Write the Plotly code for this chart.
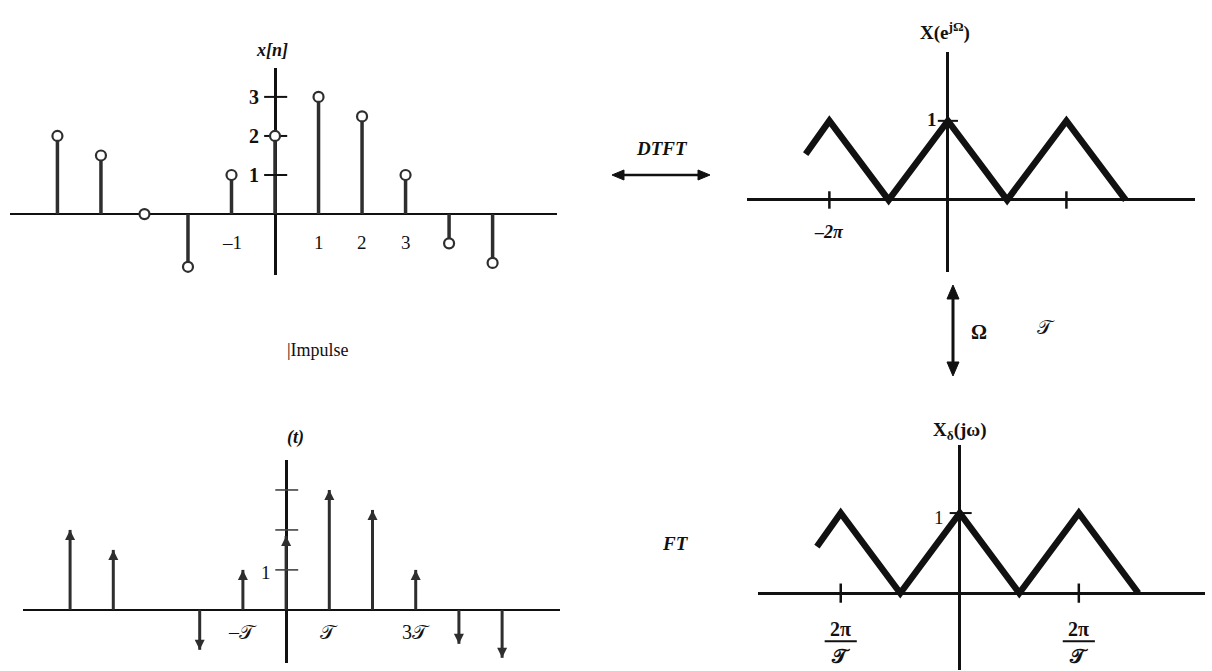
import plotly.graph_objects as go

# ---------------- data ----------------
n_idx = [-5, -4, -3, -2, -1, 0, 1, 2, 3, 4, 5]
x_n = [2, 1.5, 0, -1.35, 1, 2, 3, 2.5, 1, -0.75, -1.25]
impulse_w = [2, 1.5, 0, -1, 1, 1.85, 3, 2.5, 1, -0.85, -1.2]

dtft_omega_pi = [-2.4, -2, -1, 0, 1, 2, 3]      # Omega / pi
dtft_mag = [0.58, 1, 0, 1, 0, 1, 0]
ft_omega_pi = [-2.4, -2, -1, 0, 1, 2, 3]        # omega / (pi/T)
ft_mag = [0.58, 1, 0, 1, 0, 1, 0]

xn_yticks = [1, 2, 3]
xn_xtick_vals = [-1, 1, 2, 3]
xn_xtick_text = ["–1", "1", "2", "3"]
imp_yticks = [1, 2, 3]
imp_xtick_vals = [-1, 1, 3]
imp_xtick_text = ["–𝒯", "𝒯", "3𝒯"]
dtft_xticks = [-2, 2]
ft_xticks = [-2, 2]
ft_xtick_num = "2π"
ft_xtick_den = "𝒯"

SERIF = "Liberation Serif"
INK = "#111111"
STEM = "#2e2e2e"

fig = go.Figure()

def seg_xy(xs, ys0, ys1):
    X, Y = [], []
    for a, b0, b1 in zip(xs, ys0, ys1):
        X += [a, a, None]
        Y += [b0, b1, None]
    return X, Y

def hseg(vals, half, xc=0.0):
    X, Y = [], []
    for v in vals:
        X += [xc - half[0], xc + half[1], None]
        Y += [v, v, None]
    return X, Y

def vseg(vals, half):
    X, Y = [], []
    for v in vals:
        X += [v, v, None]
        Y += [-half, half, None]
    return X, Y

# ---------- top-left: x[n] stems ----------
sx, sy = seg_xy(n_idx, [0] * len(n_idx), x_n)
fig.add_trace(go.Scatter(x=sx, y=sy, mode="lines", line=dict(color=STEM, width=3.5),
                         xaxis="x", yaxis="y", hoverinfo="skip"))
tx, ty = hseg(xn_yticks, (0.25, 0.28))
fig.add_trace(go.Scatter(x=tx, y=ty, mode="lines", line=dict(color=INK, width=2),
                         xaxis="x", yaxis="y", hoverinfo="skip"))
fig.add_trace(go.Scatter(x=n_idx, y=x_n, mode="markers",
                         marker=dict(symbol="circle", size=10, color="white",
                                     line=dict(color=STEM, width=2.2)),
                         xaxis="x", yaxis="y", hoverinfo="skip"))

# ---------- top-right: DTFT ----------
fig.add_trace(go.Scatter(x=dtft_omega_pi, y=dtft_mag, mode="lines",
                         line=dict(color=INK, width=6.5),
                         xaxis="x2", yaxis="y2", hoverinfo="skip"))
tx, ty = hseg([1], (0.17, 0.17))
fig.add_trace(go.Scatter(x=tx, y=ty, mode="lines", line=dict(color=INK, width=2),
                         xaxis="x2", yaxis="y2", hoverinfo="skip"))
tx, ty = vseg(dtft_xticks, 0.11)
fig.add_trace(go.Scatter(x=tx, y=ty, mode="lines", line=dict(color=INK, width=2.5),
                         xaxis="x2", yaxis="y2", hoverinfo="skip"))

# ---------- bottom-left: impulse train ----------
imp_n = [a for a, w in zip(n_idx, impulse_w) if w != 0]
imp_v = [w for w in impulse_w if w != 0]
sx, sy = seg_xy(imp_n, [0] * len(imp_n), imp_v)
fig.add_trace(go.Scatter(x=sx, y=sy, mode="lines", line=dict(color=STEM, width=3),
                         xaxis="x3", yaxis="y3", hoverinfo="skip"))
fig.add_trace(go.Scatter(x=imp_n, y=imp_v, mode="markers",
                         marker=dict(symbol=["arrow-up" if v > 0 else "arrow-down" for v in imp_v],
                                     size=10, color=STEM, line=dict(width=0)),
                         xaxis="x3", yaxis="y3", hoverinfo="skip"))
tx, ty = hseg(imp_yticks, (0.25, 0.28))
fig.add_trace(go.Scatter(x=tx, y=ty, mode="lines", line=dict(color="#444", width=1.6),
                         xaxis="x3", yaxis="y3", hoverinfo="skip"))

# ---------- bottom-right: FT ----------
fig.add_trace(go.Scatter(x=ft_omega_pi, y=ft_mag, mode="lines",
                         line=dict(color=INK, width=6.5),
                         xaxis="x4", yaxis="y4", hoverinfo="skip"))
tx, ty = hseg([1], (0.17, 0.2))
fig.add_trace(go.Scatter(x=tx, y=ty, mode="lines", line=dict(color=INK, width=2),
                         xaxis="x4", yaxis="y4", hoverinfo="skip"))
tx, ty = vseg(ft_xticks, 0.12)
fig.add_trace(go.Scatter(x=tx, y=ty, mode="lines", line=dict(color=INK, width=2.5),
                         xaxis="x4", yaxis="y4", hoverinfo="skip"))

W, H = 1212, 671

def ax(px0, px1, rng, zw):
    return dict(domain=[px0 / W, px1 / W], range=rng, showgrid=False, showticklabels=False,
                ticks="", showline=False, zeroline=True, zerolinecolor=INK, zerolinewidth=zw,
                fixedrange=True)

def ay(py_top, py_bot, rng, anchor, zw):
    d = ax(0, 1, rng, zw)
    d["domain"] = [1 - py_bot / H, 1 - py_top / H]
    d["anchor"] = anchor
    return d

x1 = ax(10, 557, [-6.09, 6.48], 3); x1["anchor"] = "y"
y1 = ay(68, 275, [-1.56, 3.74], "x", 2)
x2 = ax(747, 1195, [-3.39, 4.17], 3); x2["anchor"] = "y2"
y2 = ay(52, 272, [-0.91, 1.87], "x2", 2.5)
x3 = ax(23, 560, [-6.09, 6.34], 2.5); x3["anchor"] = "y3"
y3 = ay(460, 663, [-1.33, 3.75], "x3", 2)
x4 = ax(758, 1205, [-3.39, 4.12], 3); x4["anchor"] = "y4"
y4 = ay(445, 670, [-0.96, 1.85], "x4", 2.5)

ann = []

def A(text, x, y, xref, yref, size=17, bold=False, italic=False, **kw):
    t = text
    if italic:
        t = "<i>" + t + "</i>"
    if bold:
        t = "<b>" + t + "</b>"
    d = dict(text=t, x=x, y=y, xref=xref, yref=yref, showarrow=False,
             font=dict(family=SERIF, size=size, color=INK), xanchor="center", yanchor="middle")
    d.update(kw)
    ann.append(d)

def P(px, py):
    return px / W, 1 - py / H

# top-left labels
A("x[n]", *P(272, 50), "paper", "paper", size=18, bold=True, italic=True)
for v in xn_yticks:
    A(str(v), -0.48, v, "x", "y", size=20, bold=True)
for v, t in zip(xn_xtick_vals, xn_xtick_text):
    A(t, v, -0.74, "x", "y", size=19)

# top-right labels
A("X(e<sup>jΩ</sup>)", *P(945, 31), "paper", "paper", size=19, bold=True)
A("1", -0.27, 1.02, "x2", "y2", size=19, bold=True)
A("–2π", -2, -0.41, "x2", "y2", size=18, bold=True, italic=True)

# bottom-left labels
A("(t)", *P(295, 437), "paper", "paper", size=18, bold=True, italic=True)
A("1", -0.46, 0.93, "x3", "y3", size=19)
for v, t in zip(imp_xtick_vals, imp_xtick_text):
    A(t, v, -0.55, "x3", "y3", size=20)

# bottom-right labels
A("X<sub>δ</sub>(jω)", *P(960, 431), "paper", "paper", size=19, bold=True)
A("1", -0.35, 0.95, "x4", "y4", size=19)

shapes = []
for v in ft_xticks:
    A(ft_xtick_num, v, -0.45, "x4", "y4", size=20, bold=True)
    A(ft_xtick_den, v, -0.78, "x4", "y4", size=20, bold=True)
    shapes.append(dict(type="line", xref="x4", yref="y4", x0=v - 0.27, x1=v + 0.27,
                       y0=-0.6, y1=-0.6, line=dict(color=INK, width=2)))

# between-panel texts
A("DTFT", *P(662, 148), "paper", "paper", size=19, bold=True, italic=True)
A("|Impulse", *P(318, 350), "paper", "paper", size=18)
A("Ω", *P(979, 332), "paper", "paper", size=20, bold=True)
A("𝒯", *P(1046, 327), "paper", "paper", size=20)
A("FT", *P(675, 543), "paper", "paper", size=19, bold=True, italic=True)

# double arrows drawn as shapes (paper coordinates)
def double_arrow(p0, p1, width, head_len, head_half):
    (x0, y0), (x1_, y1_) = p0, p1
    dx, dy = x1_ - x0, y1_ - y0
    L = (dx * dx + dy * dy) ** 0.5
    ux, uy = dx / L, dy / L
    nx, ny = -uy, ux
    a = (x0 + ux * head_len * 0.6, y0 + uy * head_len * 0.6)
    b = (x1_ - ux * head_len * 0.6, y1_ - uy * head_len * 0.6)
    shapes.append(dict(type="line", xref="paper", yref="paper",
                       x0=a[0] / W, y0=1 - a[1] / H, x1=b[0] / W, y1=1 - b[1] / H,
                       line=dict(color=INK, width=width)))
    for (tx_, ty_), s in (((x1_, y1_), -1), ((x0, y0), 1)):
        bx, by = tx_ + s * ux * head_len, ty_ + s * uy * head_len
        pts = [(tx_, ty_), (bx + nx * head_half, by + ny * head_half),
               (bx - nx * head_half, by - ny * head_half)]
        path = "M " + " L ".join(f"{px / W:.5f},{1 - py / H:.5f}" for px, py in pts) + " Z"
        shapes.append(dict(type="path", xref="paper", yref="paper", path=path,
                           fillcolor=INK, line=dict(color=INK, width=1)))

double_arrow((612, 175), (710, 175), 2.5, 12, 5)
double_arrow((953, 285), (953, 376), 3, 14, 6)

fig.update_layout(
    width=W, height=H, margin=dict(l=0, r=0, t=0, b=0),
    paper_bgcolor="white", plot_bgcolor="white", showlegend=False,
    xaxis=x1, yaxis=y1, xaxis2=x2, yaxis2=y2, xaxis3=x3, yaxis3=y3, xaxis4=x4, yaxis4=y4,
    annotations=ann, shapes=shapes,
)

fig.write_html("out.html", config={"displayModeBar": False},
               post_script="document.body.style.margin='0px';")
